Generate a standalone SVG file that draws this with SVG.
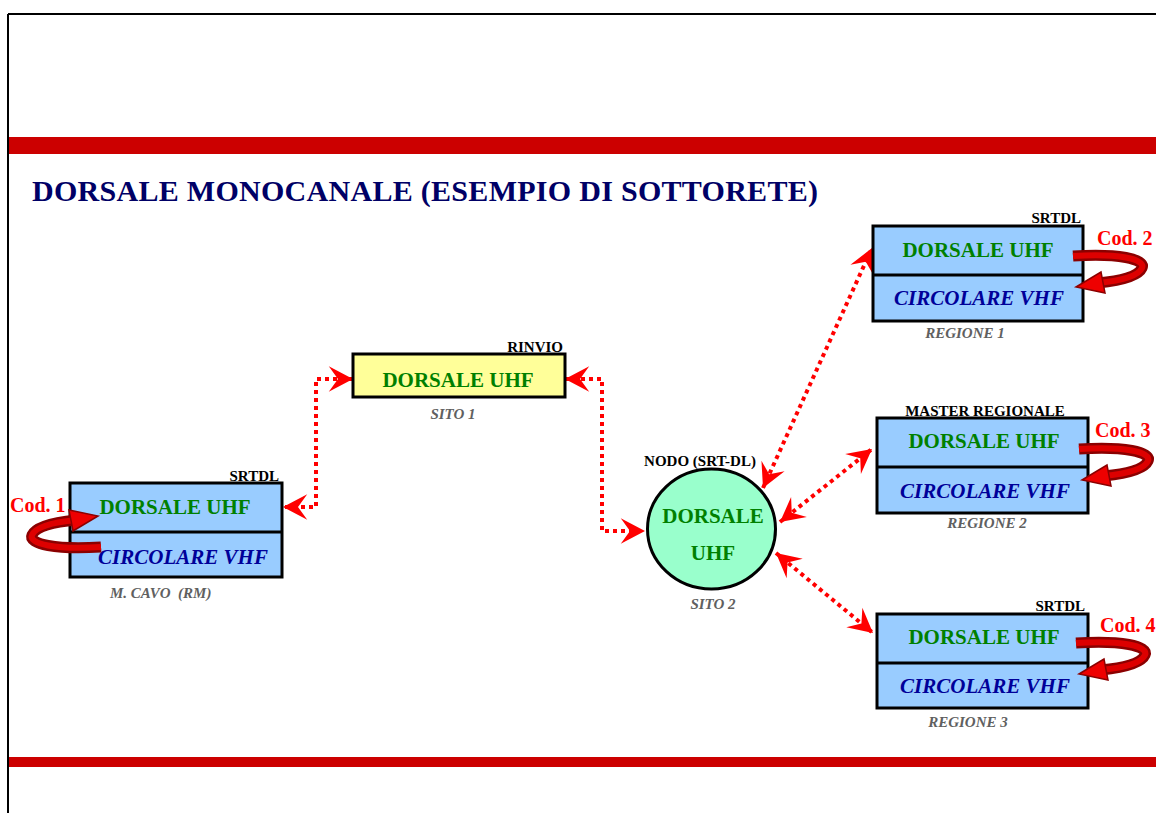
<svg xmlns="http://www.w3.org/2000/svg" width="1156" height="813" viewBox="0 0 1156 813">
<style>
.box{fill:#99ccff;stroke:#000;stroke-width:3}
.yel{fill:#ffff99;stroke:#000;stroke-width:3}
.circ{fill:#99ffcc;stroke:#000;stroke-width:3}
.div{stroke:#000;stroke-width:3}
text{font-family:"Liberation Serif","Times New Roman",serif;font-weight:bold}
.uhf{fill:#008000;font-size:21px;text-anchor:middle}
.vhf{fill:#000099;font-size:21px;font-style:italic;text-anchor:middle}
.lbl{fill:#000;font-size:15px}
.end{text-anchor:end}
.mid{text-anchor:middle}
.site{fill:#606060;font-size:15px;font-style:italic}
.cod{fill:#ff0000;font-size:20px}
.conn{fill:none;stroke:#ff0000;stroke-width:4;stroke-dasharray:4 4;marker-start:url(#ah);marker-end:url(#ah)}
</style>
<defs>
<marker id="ah" markerUnits="userSpaceOnUse" markerWidth="30" markerHeight="30" viewBox="-24 -13 26 26" refX="0" refY="0" orient="auto-start-reverse">
<path d="M0 0 L-21 -11 L-13 0 L-21 11 Z" fill="#ff0000"/>
</marker>
<g id="curl">
<path d="M1073 256 C1118 253 1146 259 1142 268 C1138 277 1118 281 1098 283" fill="none" stroke="#8b0000" stroke-width="11"/>
<path d="M1073 256 C1118 253 1146 259 1142 268 C1138 277 1118 281 1098 283" fill="none" stroke="#dd0000" stroke-width="6"/>
<polygon points="1076,287 1101,272 1105,293" fill="#ee0000" stroke="#8b0000" stroke-width="1.5"/>
</g>
</defs>
<rect width="1156" height="813" fill="#fff"/>
<g id="frame">
<path d="M8 14 H1156 M8 14 V813" fill="none" stroke="#000" stroke-width="2"/>
<rect x="9" y="137" width="1147" height="17" fill="#cc0000"/>
<rect x="9" y="757" width="1147" height="10" fill="#cc0000"/>
</g>
<text id="title" x="32" y="201" font-size="30" fill="#000066" textLength="786" lengthAdjust="spacing">DORSALE MONOCANALE (ESEMPIO DI SOTTORETE)</text>

<g id="connectors">
<path class="conn" d="M353 379 H316 V507 H283"/>
<path class="conn" d="M565 379 H602 V531 H645"/>
<path class="conn" d="M763 488 L872 248"/>
<path class="conn" d="M780 522 L872 449"/>
<path class="conn" d="M776 553 L873 633"/>
</g>

<g id="mcavo">
<rect class="box" x="70" y="483" width="212" height="94"/>
<line class="div" x1="70" y1="532" x2="282" y2="532"/>
<text class="lbl end" x="279" y="481">SRTDL</text>
<text class="uhf" x="175" y="514">DORSALE UHF</text>
<text class="vhf" x="183" y="564">CIRCOLARE VHF</text>
<text class="site" x="110" y="598" xml:space="preserve">M. CAVO  (RM)</text>
</g>

<g id="sito1">
<rect class="yel" x="353" y="354" width="212" height="43"/>
<text class="lbl end" x="563" y="352">RINVIO</text>
<text class="uhf" x="458" y="387">DORSALE UHF</text>
<text class="site mid" x="453" y="419">SITO 1</text>
</g>

<g id="sito2">
<ellipse class="circ" cx="711.5" cy="529" rx="64" ry="60"/>
<text class="lbl mid" x="700" y="466">NODO (SRT-DL)</text>
<text class="uhf" x="713" y="523">DORSALE</text>
<text class="uhf" x="713" y="560">UHF</text>
<text class="site mid" x="713" y="609">SITO 2</text>
</g>

<g id="regione1">
<rect class="box" x="873" y="226" width="210" height="95"/>
<line class="div" x1="873" y1="275" x2="1083" y2="275"/>
<text class="lbl end" x="1081" y="223">SRTDL</text>
<text class="uhf" x="978" y="257">DORSALE UHF</text>
<text class="vhf" x="979" y="305">CIRCOLARE VHF</text>
<text class="site mid" x="965" y="338">REGIONE 1</text>
</g>

<g id="regione2">
<rect class="box" x="877" y="418" width="211" height="95"/>
<line class="div" x1="877" y1="467" x2="1088" y2="467"/>
<text class="lbl mid" x="985" y="416">MASTER REGIONALE</text>
<text class="uhf" x="984" y="448">DORSALE UHF</text>
<text class="vhf" x="985" y="498">CIRCOLARE VHF</text>
<text class="site mid" x="987" y="528">REGIONE 2</text>
</g>

<g id="regione3">
<rect class="box" x="877" y="614" width="211" height="94"/>
<line class="div" x1="877" y1="663" x2="1088" y2="663"/>
<text class="lbl end" x="1085" y="611">SRTDL</text>
<text class="uhf" x="984" y="644">DORSALE UHF</text>
<text class="vhf" x="985" y="693">CIRCOLARE VHF</text>
<text class="site mid" x="968" y="727">REGIONE 3</text>
</g>

<g id="codes">
<use href="#curl" transform="translate(1174,803) rotate(180)"/>
<text class="cod" x="10" y="512">Cod. 1</text>
<use href="#curl"/>
<text class="cod" x="1097" y="245">Cod. 2</text>
<use href="#curl" transform="translate(6,193)"/>
<text class="cod" x="1095" y="437">Cod. 3</text>
<use href="#curl" transform="translate(3,387)"/>
<text class="cod" x="1100" y="632">Cod. 4</text>
</g>
</svg>
